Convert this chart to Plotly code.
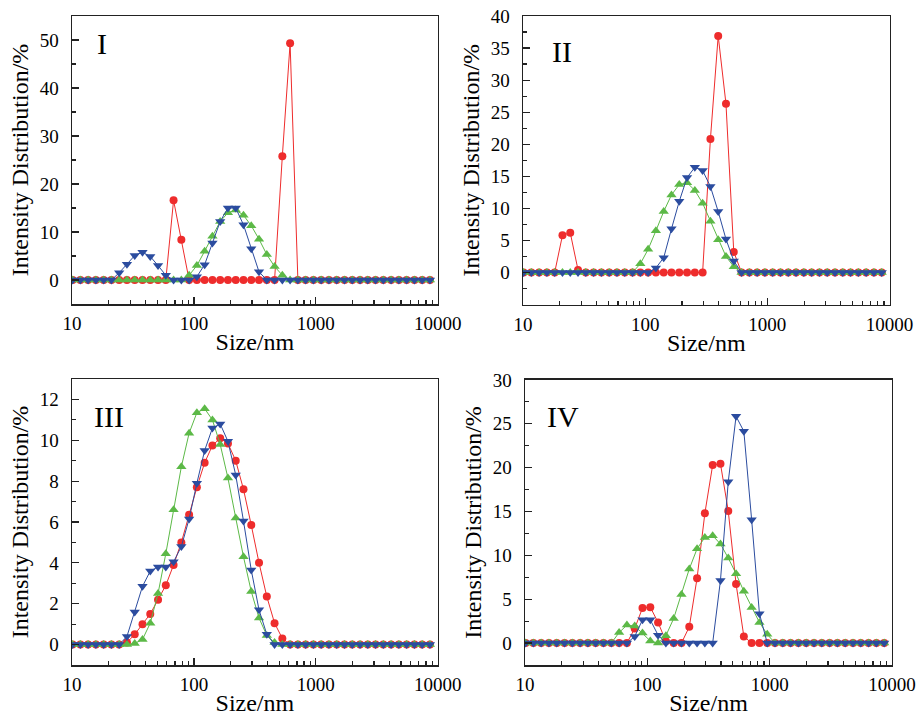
import plotly.graph_objects as go

# Size bins (nm)
SIZES = [10.1, 11.7, 13.54, 15.69, 18.17, 21.04, 24.36, 28.21, 32.67, 37.84,
         43.82, 50.75, 58.77, 68.06, 78.82, 91.28, 105.7, 122.4, 141.8, 164.2,
         190.1, 220.2, 255.0, 295.3, 342.0, 396.1, 458.7, 531.2, 615.1, 712.4,
         825.0, 955.4, 1106, 1281, 1484, 1718, 1990, 2305, 2669, 3091,
         3580, 4145, 4801, 5560, 6439, 7456, 8635]

# Panel I
I_RED = [0, 0, 0, 0, 0, 0, 0, 0, 0, 0,
         0, 0, 0, 16.6, 8.4, 0, 0, 0, 0, 0,
         0, 0, 0, 0, 0, 0, 0, 25.8, 49.3, 0,
         0, 0, 0, 0, 0, 0, 0, 0, 0, 0,
         0, 0, 0, 0, 0, 0, 0]
I_BLUE = [0, 0, 0, 0, 0, 0, 1.5, 3.3, 5.1, 5.8,
          4.9, 3.0, 1.0, 0, 0, 0, 0.7, 3.2, 7.7, 12.2,
          15.0, 15.0, 11.5, 6.5, 1.7, 0, 0, 0, 0, 0,
          0, 0, 0, 0, 0, 0, 0, 0, 0, 0,
          0, 0, 0, 0, 0, 0, 0]
I_GREEN = [0, 0, 0, 0, 0, 0, 0, 0, 0, 0,
           0, 0, 0, 0, 0, 1.0, 3.0, 6.0, 9.1, 12.2,
           14.0, 14.6, 13.5, 11.3, 8.5, 5.3, 2.8, 1.0, 0, 0,
           0, 0, 0, 0, 0, 0, 0, 0, 0, 0,
           0, 0, 0, 0, 0, 0, 0]

# Panel II
II_RED = [0, 0, 0, 0, 0, 5.8, 6.2, 0.4, 0, 0,
          0, 0, 0, 0, 0, 0, 0, 0, 0, 0,
          0, 0, 0, 0, 20.8, 36.9, 26.3, 3.2, 0, 0,
          0, 0, 0, 0, 0, 0, 0, 0, 0, 0,
          0, 0, 0, 0, 0, 0, 0]
II_BLUE = [0, 0, 0, 0, 0, 0, 0, 0, 0, 0,
           0, 0, 0, 0, 0, 0, 0, 0.7, 2.3, 6.8,
           11.1, 14.8, 16.4, 15.9, 13.4, 9.5, 5.2, 1.8, 0, 0,
           0, 0, 0, 0, 0, 0, 0, 0, 0, 0,
           0, 0, 0, 0, 0, 0, 0]
II_GREEN = [0, 0, 0, 0, 0, 0, 0, 0, 0, 0,
            0, 0, 0, 0, 0, 1.35, 3.6, 6.5, 9.5, 12.1,
            13.7, 14.0, 12.8, 10.8, 8.0, 5.1, 2.5, 0.9, 0, 0,
            0, 0, 0, 0, 0, 0, 0, 0, 0, 0,
            0, 0, 0, 0, 0, 0, 0]

# Panel III
III_RED = [0, 0, 0, 0, 0, 0, 0, 0.1, 0.5, 1.0,
           1.5, 2.2, 2.9, 3.9, 5.0, 6.35, 7.7, 8.9, 9.75, 10.1,
           9.85, 9.0, 7.6, 5.85, 4.0, 2.35, 1.05, 0.3, 0, 0,
           0, 0, 0, 0, 0, 0, 0, 0, 0, 0,
           0, 0, 0, 0, 0, 0, 0]
III_BLUE = [0, 0, 0, 0, 0, 0, 0, 0.4, 1.6, 2.85,
            3.6, 3.8, 3.8, 4.05, 4.8, 6.15, 7.9, 9.5, 10.6, 10.8,
            9.95, 8.3, 6.05, 3.65, 1.7, 0.5, 0, 0, 0, 0,
            0, 0, 0, 0, 0, 0, 0, 0, 0, 0,
            0, 0, 0, 0, 0, 0, 0]
III_GREEN = [0, 0, 0, 0, 0, 0, 0, 0, 0.05, 0.25,
             1.05, 2.5, 4.45, 6.6, 8.7, 10.35, 11.35, 11.55, 11.0, 9.8,
             8.15, 6.2, 4.3, 2.6, 1.3, 0.45, 0.1, 0, 0, 0,
             0, 0, 0, 0, 0, 0, 0, 0, 0, 0,
             0, 0, 0, 0, 0, 0, 0]

# Panel IV
IV_RED = [0, 0, 0, 0, 0, 0, 0, 0, 0, 0,
          0, 0, 0, 0, 1.66, 4.0, 4.1, 2.35, 0.2, 0,
          0, 1.85, 7.4, 14.8, 20.3, 20.45, 15.05, 6.75, 0.75, 0,
          0, 0, 0, 0, 0, 0, 0, 0, 0, 0,
          0, 0, 0, 0, 0, 0, 0]
IV_BLUE = [0, 0, 0, 0, 0, 0, 0, 0, 0, 0,
           0, 0, 0, 0, 0.75, 2.65, 2.65, 0.9, 0, 0,
           0, 0, 0, 0, 0, 7.15, 18.4, 25.85, 24.15, 14.05,
           3.35, 0, 0, 0, 0, 0, 0, 0, 0, 0,
           0, 0, 0, 0, 0, 0, 0]
IV_GREEN = [0, 0, 0, 0, 0, 0, 0, 0, 0, 0,
            0, 0, 1.2, 2.05, 1.95, 1.15, 0.25, 0, 0.85, 2.8,
            5.55, 8.45, 10.75, 12.05, 12.25, 11.3, 9.7, 7.9, 5.9, 4.05,
            2.35, 1.0, 0, 0, 0, 0, 0, 0, 0, 0,
            0, 0, 0, 0, 0, 0, 0]

PANEL_LABELS = ["I", "II", "III", "IV"]
X_TICKS = [10, 100, 1000, 10000]
X_MINOR = [20, 30, 40, 50, 60, 70, 80, 90,
           200, 300, 400, 500, 600, 700, 800, 900,
           2000, 3000, 4000, 5000, 6000, 7000, 8000, 9000]
Y_TICKS_I = [0, 10, 20, 30, 40, 50]
Y_TICKS_II = [0, 5, 10, 15, 20, 25, 30, 35, 40]
Y_TICKS_III = [0, 2, 4, 6, 8, 10, 12]
Y_TICKS_IV = [0, 5, 10, 15, 20, 25, 30]

RED = "#ee2c2c"
BLUE = "#2b4c9f"
GREEN = "#5cb947"
FONT = "Liberation Serif"

panels = [
    dict(red=I_RED, blue=I_BLUE, green=I_GREEN, yr=[-5, 55], yt=Y_TICKS_I, mdt=5,
         xd=[0.0784, 0.4763], yd=[0.5766, 0.9777], lx=0.1034, ly=0.9394),
    dict(red=II_RED, blue=II_BLUE, green=II_GREEN, yr=[-5, 40], yt=Y_TICKS_II, mdt=2.5,
         xd=[0.5691, 0.9679], yd=[0.5759, 0.9777], lx=0.5985, ly=0.9276),
    dict(red=III_RED, blue=III_BLUE, green=III_GREEN, yr=[-1, 13], yt=Y_TICKS_III, mdt=1,
         xd=[0.0784, 0.4763], yd=[0.0738, 0.4721], lx=0.1001, ly=0.4196),
    dict(red=IV_RED, blue=IV_BLUE, green=IV_GREEN, yr=[-2.5, 30], yt=Y_TICKS_IV, mdt=2.5,
         xd=[0.5713, 0.9706], yd=[0.0738, 0.4708], lx=0.5930, ly=0.4196),
]

fig = go.Figure()
layout = {}
annotations = []
for k, p in enumerate(panels):
    n = "" if k == 0 else str(k + 1)
    xa, ya = "x" + n, "y" + n
    for vals, col, sym, sz in [(p["red"], RED, "circle", 8),
                               (p["green"], GREEN, "triangle-up", 9),
                               (p["blue"], BLUE, "triangle-down", 9)]:
        fig.add_trace(go.Scatter(
            x=SIZES, y=vals, mode="lines+markers", xaxis=xa, yaxis=ya,
            line=dict(color=col, width=1),
            marker=dict(color=col, symbol=sym, size=sz, line=dict(width=0)),
            showlegend=False, cliponaxis=True))
    common = dict(showline=True, mirror=True, linecolor="#222", linewidth=1.5,
                  ticks="inside", ticklen=7, tickwidth=1.2, tickcolor="#222",
                  showgrid=False, zeroline=False, automargin=False,
                  tickfont=dict(family=FONT, size=19, color="black"))
    layout["xaxis" + n] = dict(
        common, type="log", range=[1, 4], domain=p["xd"], anchor=ya,
        tickmode="array", tickvals=X_TICKS, ticktext=[str(v) for v in X_TICKS],
        minor=dict(tickmode="array", tickvals=X_MINOR, ticks="inside",
                   ticklen=4, tickcolor="#222", tickwidth=1.2),
        ticklabelstandoff=2,
        title=dict(text="Size/nm", font=dict(family=FONT, size=24, color="black"),
                   standoff=0))
    layout["yaxis" + n] = dict(
        common, range=p["yr"], domain=p["yd"], anchor=xa,
        tickmode="array", tickvals=p["yt"], ticktext=[str(v) for v in p["yt"]],
        minor=dict(dtick=p["mdt"], tick0=0, ticks="inside", ticklen=4,
                   tickcolor="#222", tickwidth=1.2),
        ticklabelstandoff=8,
        title=dict(text="Intensity Distribution/%",
                   font=dict(family=FONT, size=24, color="black"), standoff=4))
    annotations.append(dict(
        text=PANEL_LABELS[k], xref="paper", yref="paper",
        x=p["lx"], y=p["ly"], xanchor="left", yanchor="middle", showarrow=False,
        font=dict(family=FONT, size=30, color="black")))

fig.update_layout(
    template="none",
    font=dict(family=FONT, color="black"),
    width=919, height=718, margin=dict(l=0, r=0, t=0, b=0),
    paper_bgcolor="white", plot_bgcolor="white", hovermode=False,
    annotations=annotations, **layout)

fig.write_html("out.html",
               config={"displayModeBar": False, "staticPlot": True},
               post_script="document.body.style.margin='0';"
                           "document.body.style.overflow='hidden';")
